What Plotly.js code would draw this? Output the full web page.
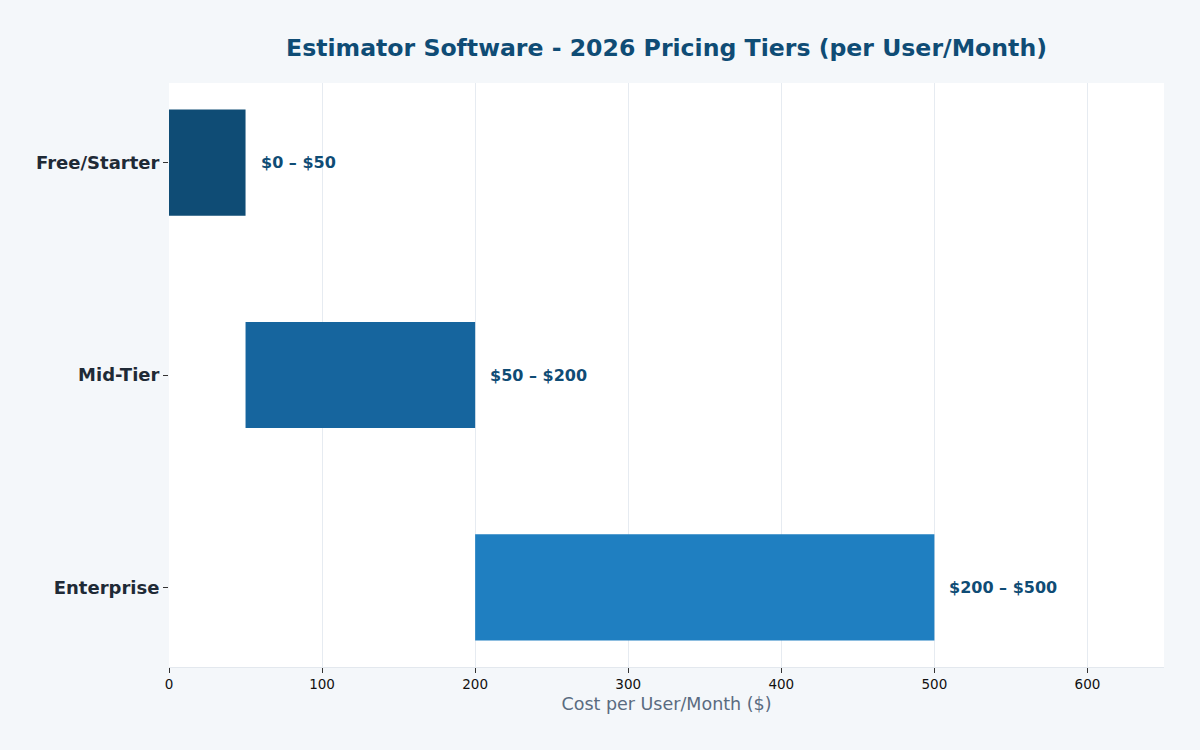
<!DOCTYPE html>
<html>
<head>
<meta charset="utf-8">
<script src="https://cdn.plot.ly/plotly-3.0.1.min.js"></script>
<style>
  html, body { margin: 0; padding: 0; background: #f4f7fa; }
  #chart { width: 1200px; height: 750px; }
</style>
</head>
<body>
<div id="chart"></div>
<script>
// Pricing tiers: each bar spans from its low price to its high price
const tiers = ["Free/Starter", "Mid-Tier", "Enterprise"];
const priceLow = [0, 50, 200];
const priceHigh = [50, 200, 500];
const rangeLabels = ["$0 – $50", "$50 – $200", "$200 – $500"];
const tierColors = ["#0f4c75", "#16659e", "#1f7fc1"];

const spans = priceHigh.map((h, i) => h - priceLow[i]);

const trace = {
  type: "bar",
  orientation: "h",
  y: tiers,
  x: spans,
  base: priceLow,
  width: 0.5,
  marker: { color: tierColors },
  hoverinfo: "skip",
  showlegend: false
};

const annotations = tiers.map((t, i) => ({
  x: priceHigh[i],
  y: t,
  xref: "x",
  yref: "y",
  text: rangeLabels[i],
  showarrow: false,
  xanchor: "left",
  xshift: 13,
  font: { family: "DejaVu Sans", size: 16, color: "#0f4c75", weight: "bold" }
}));

const layout = {
  width: 1200,
  height: 750,
  paper_bgcolor: "#f4f7fa",
  plot_bgcolor: "#ffffff",
  margin: { l: 169, r: 36, t: 83, b: 83 },
  title: {
    text: "<b>Estimator Software - 2026 Pricing Tiers (per User/Month)</b>",
    x: 0.5,
    xref: "paper",
    xanchor: "center",
    y: 0.937,
    yref: "container",
    yanchor: "middle",
    font: { family: "DejaVu Sans", size: 23.6, color: "#0f4c75" }
  },
  xaxis: {
    range: [0, 650],
    dtick: 100,
    showgrid: true,
    gridcolor: "#e6ebf1",
    gridwidth: 1,
    zeroline: false,
    showline: true,
    linecolor: "#e3e8ee",
    linewidth: 1,
    ticks: "outside",
    ticklen: 5,
    tickcolor: "#333333",
    tickfont: { family: "DejaVu Sans", size: 13.5, color: "#111111" },
    title: {
      text: "Cost per User/Month ($)",
      font: { family: "DejaVu Sans", size: 17.5, color: "#5a6b80" },
      standoff: 6
    }
  },
  yaxis: {
    type: "category",
    categoryorder: "array",
    categoryarray: tiers,
    range: [2.375, -0.375],
    showgrid: false,
    zeroline: false,
    showline: false,
    ticks: "outside",
    ticklen: 5,
    tickcolor: "#333333",
    tickfont: { family: "DejaVu Sans", size: 18, color: "#1f2a36", weight: "bold" }
  },
  annotations: annotations,
  bargap: 0.5
};

Plotly.newPlot("chart", [trace], layout, { displayModeBar: false, staticPlot: true });
</script>
</body>
</html>
